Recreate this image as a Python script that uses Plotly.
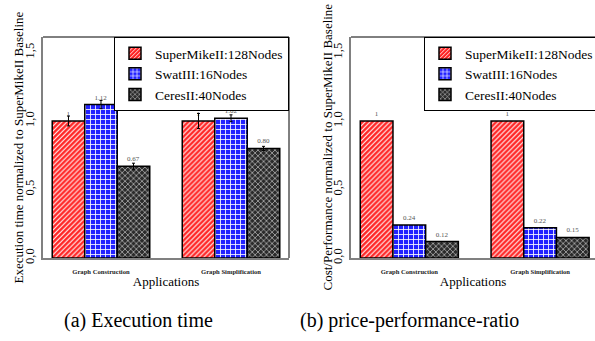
import plotly.graph_objects as go

categories = ["Graph Construction", "Graph Simplification"]
series_names = ["SuperMikeII:128Nodes", "SwatIII:16Nodes", "CeresII:40Nodes"]

exec_values = {
    "SuperMikeII:128Nodes": [1.0, 1.0],
    "SwatIII:16Nodes": [1.12, 1.02],
    "CeresII:40Nodes": [0.67, 0.80],
}
exec_errors = {
    "SuperMikeII:128Nodes": [0.036, 0.055],
    "SwatIII:16Nodes": [0.03, 0.025],
    "CeresII:40Nodes": [0.022, 0.015],
}
exec_labels = {
    "SuperMikeII:128Nodes": ["1", "1"],
    "SwatIII:16Nodes": ["1.12", "1.02"],
    "CeresII:40Nodes": ["0.67", "0.80"],
}

cost_values = {
    "SuperMikeII:128Nodes": [1.0, 1.0],
    "SwatIII:16Nodes": [0.24, 0.22],
    "CeresII:40Nodes": [0.12, 0.15],
}
cost_labels = {
    "SuperMikeII:128Nodes": ["1", "1"],
    "SwatIII:16Nodes": ["0.24", "0.22"],
    "CeresII:40Nodes": ["0.12", "0.15"],
}

ytick_vals = [0.0, 0.5, 1.0, 1.5]
ytick_text = ["0,0", "0,5", "1,0", "1,5"]

left_title = "Execution time normalized to SuperMikeII Baseline"
right_title = "Cost/Performance normalized to SuperMikeII Baseline"
x_title = "Applications"
captions = ["(a) Execution time", "(b) price-performance-ratio"]

SERIF = "Liberation Serif"
styles = {
    "SuperMikeII:128Nodes": dict(bg="#ff2424", fg="#ffffff", shape="/", size=3.5, solidity=0.3),
    "SwatIII:16Nodes": dict(bg="#2222ff", fg="#ffffff", shape="+", size=5, solidity=0.3),
    "CeresII:40Nodes": dict(bg="#2b2b2b", fg="#cccccc", shape="x", size=4, solidity=0.3),
}

fig = go.Figure()

def pattern(st):
    return dict(shape=st["shape"], bgcolor=st["bg"], fgcolor=st["fg"],
                size=st["size"], solidity=st["solidity"], fillmode="replace")

for name in series_names:
    st = styles[name]
    fig.add_trace(go.Bar(
        x=categories, y=exec_values[name], name=name,
        xaxis="x", yaxis="y", legend="legend",
        marker=dict(color=st["bg"], line=dict(color="black", width=1.5), pattern=pattern(st)),
        error_y=dict(type="data", array=exec_errors[name], color="black", thickness=1, width=1.5),
        text=exec_labels[name], textposition="outside",
        textfont=dict(family=SERIF, size=7, color="#555555"), cliponaxis=False,
    ))

for name in series_names:
    st = styles[name]
    fig.add_trace(go.Bar(
        x=categories, y=cost_values[name], name=name,
        xaxis="x2", yaxis="y2", legend="legend2",
        marker=dict(color=st["bg"], line=dict(color="black", width=1.5), pattern=pattern(st)),
        text=cost_labels[name], textposition="outside",
        textfont=dict(family=SERIF, size=7, color="#555555"), cliponaxis=False,
    ))

W, H = 595, 341
def px(x):
    return x / W
def py(y):
    return (H - y) / H

y_top, y_bot = 37, 258
yr = [0, (y_bot - y_top) / 137.0]

xaxis_common = dict(
    showline=True, linecolor="#808080", linewidth=1.5, ticks="", showgrid=False, zeroline=False,
    tickfont=dict(family=SERIF, size=6.6, color="#222222", weight="bold"),
    title=dict(text=x_title, font=dict(family=SERIF, size=13, color="black"), standoff=3),
    ticklabelstandoff=6,
)
yaxis_common = dict(
    showline=True, linecolor="#808080", linewidth=1.5,
    ticks="outside", ticklen=2, tickcolor="rgba(0,0,0,0)",
    showgrid=False, zeroline=False,
    range=yr, tickvals=ytick_vals, ticktext=ytick_text, tickangle=-90,
    tickfont=dict(family=SERIF, size=12.5, color="black"),
)
legend_common = dict(
    y=py(y_top), yanchor="top", bordercolor="black", borderwidth=1, bgcolor="white",
    font=dict(family=SERIF, size=13.5, color="black"), itemwidth=30,
)

fig.update_layout(
    width=W, height=H, margin=dict(l=0, r=0, t=0, b=0, autoexpand=False),
    paper_bgcolor="white", plot_bgcolor="white",
    barmode="group", bargap=0.25, bargroupgap=0,
    font=dict(family=SERIF, color="black"),
    xaxis=dict(**xaxis_common, domain=[px(43), px(289)], anchor="y", range=[-0.446, 1.446]),
    yaxis=dict(**yaxis_common, domain=[py(y_bot), py(y_top)], anchor="x"),
    xaxis2=dict(**xaxis_common, domain=[px(351), 1.0], anchor="y2", range=[-0.446, 1.42]),
    yaxis2=dict(**yaxis_common, domain=[py(y_bot), py(y_top)], anchor="x2"),
    legend=dict(**legend_common, x=px(289), xanchor="right"),
    legend2=dict(**legend_common, x=px(424), xanchor="left"),
    showlegend=True,
)

# top and right frame lines
fig.add_shape(type="line", xref="x domain", yref="y domain", x0=0, x1=1, y0=1, y1=1,
              line=dict(color="black", width=1))
fig.add_shape(type="line", xref="x domain", yref="y domain", x0=1, x1=1, y0=0, y1=1,
              line=dict(color="black", width=1))
fig.add_shape(type="line", xref="x2 domain", yref="y2 domain", x0=0, x1=1, y0=1, y1=1,
              line=dict(color="black", width=1))

# y-axis titles as rotated annotations
for title, tx in zip([left_title, right_title], [18, 327]):
    fig.add_annotation(text=title, x=px(tx), y=py((y_top + y_bot) / 2), xref="paper", yref="paper",
                       xanchor="center", yanchor="middle", textangle=-90, showarrow=False,
                       font=dict(family=SERIF, size=13, color="black"))

for cap, cx in zip(captions, [138, 409]):
    fig.add_annotation(text=cap, x=px(cx), y=py(320), xref="paper", yref="paper",
                       xanchor="center", yanchor="middle", showarrow=False,
                       font=dict(family=SERIF, size=20, color="black"))

fig.write_html("out.html", config={"displayModeBar": False},
               post_script="document.body.style.margin='0';document.body.style.overflow='hidden';")
